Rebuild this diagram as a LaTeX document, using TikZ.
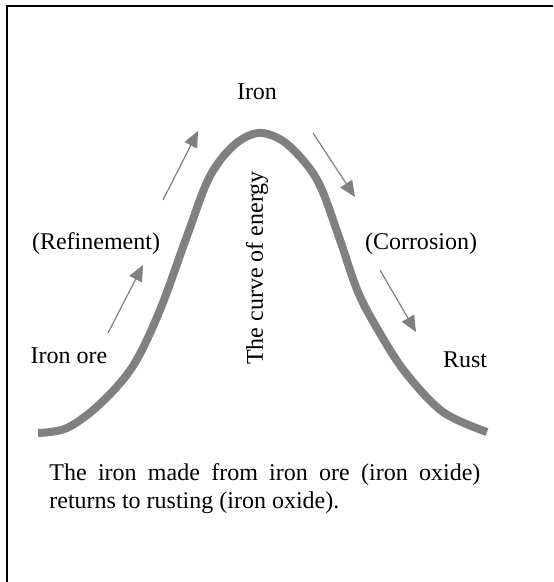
\documentclass[tikz,border=0pt]{standalone}
\usepackage{fontspec}
\setmainfont{Liberation Serif}
\usetikzlibrary{arrows.meta, positioning}

\begin{document}
\begin{tikzpicture}[
    x=0.5pt, y=-0.5pt,
    label/.style={font=\fontsize{12}{14}\selectfont, inner sep=0pt},
    energy/.style={line width=4pt, color={rgb,255:red,128;green,128;blue,128}},
    arr/.style={-{Triangle[length=8pt, width=7pt]}, line width=0.6pt, color={rgb,255:red,128;green,128;blue,128}},
]
\useasboundingbox (0,0) rectangle (553,582);

% Frame (top and left edges only)
\draw[line width=1pt] (7,582) -- (7,6) -- (553,6);

% The curve of energy
\draw[energy, line cap=butt] plot[smooth, tension=0.55] coordinates {
    (38,433) (67,428) (100,404) (133,366) (160,310) (187,236) (209,178)
    (233,146) (258,133) (283,141) (307,165) (322,190) (340,240) (358,292)
    (378,330) (405,372) (443,412) (487,432)};

% Labels
\node[label] (iron) at (257,92) {Iron};
\node[label] (refine) at (96,244) {(Refinement)};
\node[label] (corrode) at (421,244) {(Corrosion)};
\node[label] (ore) at (69,356) {Iron ore};
\node[label] (rust) at (465,360) {Rust};
\node[label, rotate=90] (curvename) at (257,268) {The curve of energy};

% Arrow end points
\coordinate (upA) at (108,333);
\coordinate (upB) at (143,265);
\coordinate (upC) at (163,200);
\coordinate (upD) at (198,131);
\coordinate (downA) at (313,133);
\coordinate (downB) at (355,197);
\coordinate (downC) at (380,270);
\coordinate (downD) at (416,332);

% Arrows
\draw[arr] (upA) -- (upB);
\draw[arr] (upC) -- (upD);
\draw[arr] (downA) -- (downB);
\draw[arr] (downC) -- (downD);

% Caption
\node[label, text width=215.5pt, align=justify, anchor=north west] (caption) at (49,463)
    {The iron made from iron ore (iron oxide)\linebreak returns to rusting (iron oxide).};

\end{tikzpicture}
\end{document}
